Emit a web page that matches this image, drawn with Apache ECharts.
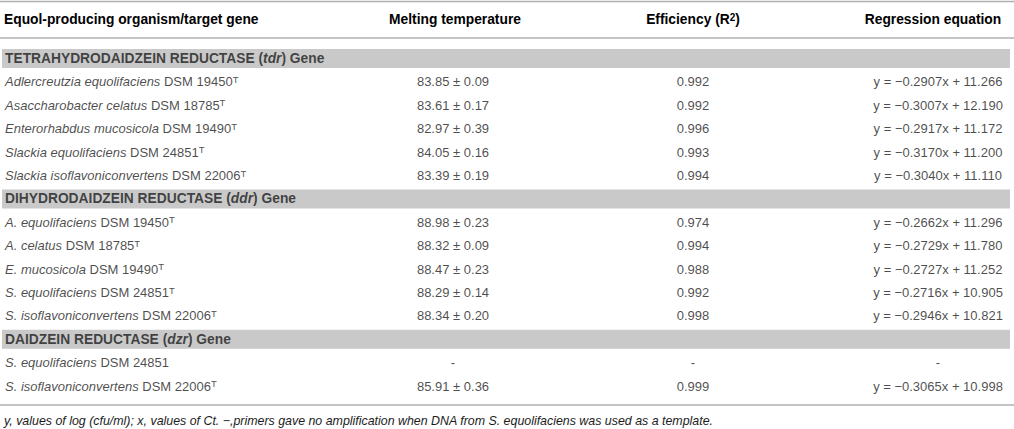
<html>
	<head>
		<meta charset="utf-8">
		<title>Equol qPCR table</title>
		<script src="https://cdn.jsdelivr.net/npm/echarts@6/dist/echarts.min.js"></script>
		<style>
			html, body { margin: 0px; background: #fff; }
			#main { width: 1014px; height: 429px; }
		</style>
	</head>
	<body>
		<div id="main"></div>
		<script type="text/javascript">
			var headers = ['Equol-producing organism/target gene', 'Melting temperature', 'Efficiency (R', 'Regression equation'];
			var sectionNames = ['TETRAHYDRODAIDZEIN REDUCTASE', 'DIHYDRODAIDZEIN REDUCTASE', 'DAIDZEIN REDUCTASE'];
			var sectionGenes = ['tdr', 'ddr', 'dzr'];
			var species = ['Adlercreutzia equolifaciens', 'Asaccharobacter celatus', 'Enterorhabdus mucosicola', 'Slackia equolifaciens', 'Slackia isoflavoniconvertens',
				'A. equolifaciens', 'A. celatus', 'E. mucosicola', 'S. equolifaciens', 'S. isoflavoniconvertens',
				'S. equolifaciens', 'S. isoflavoniconvertens'];
			var strains = ['DSM 19450', 'DSM 18785', 'DSM 19490', 'DSM 24851', 'DSM 22006',
				'DSM 19450', 'DSM 18785', 'DSM 19490', 'DSM 24851', 'DSM 22006',
				'DSM 24851', 'DSM 22006'];
			var typeStrain = [true, true, true, true, true, true, true, true, true, true, false, true];
			var sectionOf = [0, 0, 0, 0, 0, 1, 1, 1, 1, 1, 2, 2];
			var meltMean = [83.85, 83.61, 82.97, 84.05, 83.39, 88.98, 88.32, 88.47, 88.29, 88.34, null, 85.91];
			var meltSd = [0.09, 0.17, 0.39, 0.16, 0.19, 0.23, 0.09, 0.23, 0.14, 0.20, null, 0.36];
			var efficiency = [0.992, 0.992, 0.996, 0.993, 0.994, 0.974, 0.994, 0.988, 0.992, 0.998, null, 0.999];
			var slope = [-0.2907, -0.3007, -0.2917, -0.3170, -0.3040, -0.2662, -0.2729, -0.2727, -0.2716, -0.2946, null, -0.3065];
			var intercept = [11.266, 12.190, 11.172, 11.200, 11.110, 11.296, 11.780, 11.252, 10.905, 10.821, null, 10.998];
			var footnote = 'y, values of log (cfu/ml); x, values of Ct. \u2212,primers gave no amplification when DNA from S. equolifaciens was used as a template.';

			var font = '"Liberation Sans", Arial, Helvetica, sans-serif';
			var ink = '#1c1c1c';
			var rich = {
				i: { fontStyle: 'italic', fontFamily: font, fontSize: 13, color: ink },
				sup: { fontSize: 9.5, lineHeight: 9, verticalAlign: 'top', fontFamily: font, color: ink },
				hs: { fontSize: 10, lineHeight: 9, verticalAlign: 'top', fontWeight: 'bold', fontFamily: font, color: ink },
				b: { fontWeight: 'bold', fontFamily: font, fontSize: 13.8, color: ink },
				bi: { fontWeight: 'bold', fontStyle: 'italic', fontFamily: font, fontSize: 13.8, color: ink }
			};

			// build table rows: a grey band per gene, then its organisms
			var rowKeys = [], bandData = [], nameData = [], meltData = [], effData = [], regData = [];
			for (var s = 0; s < sectionNames.length; s++) {
				var r = rowKeys.length;
				rowKeys.push('band' + s);
				bandData.push(1008);
				nameData.push({ value: [3, r], text: '{b|' + sectionNames[s] + ' (}{bi|' + sectionGenes[s] + '}{b|) Gene}' });
				for (var k = 0; k < species.length; k++) {
					if (sectionOf[k] != s) continue;
					r = rowKeys.length;
					rowKeys.push('row' + k);
					bandData.push('-');
					nameData.push({ value: [3, r], text: '{i|' + species[k] + '} ' + strains[k] + (typeStrain[k] ? '{sup|T}' : '') });
					var has = meltMean[k] != null;
					meltData.push({ value: [451, r], text: has ? meltMean[k].toFixed(2) + ' \u00b1 ' + meltSd[k].toFixed(2) : '-' });
					effData.push({ value: [691, r], text: efficiency[k] != null ? efficiency[k].toFixed(3) : '-' });
					regData.push({ value: [936, r], text: slope[k] != null ? 'y = \u2212' + Math.abs(slope[k]).toFixed(4) + 'x + ' + intercept[k].toFixed(3) : '-' });
				}
			}

			function textCol(data, align) {
				return {
					type: 'scatter',
					symbolSize: 1,
					itemStyle: { color: 'rgba(0,0,0,0)' },
					silent: true,
					data: data,
					label: {
						show: true,
						position: 'inside',
						align: align,
						verticalAlign: 'middle',
						fontFamily: font,
						fontSize: 13,
						lineHeight: 15,
						color: ink,
						rich: rich,
						formatter: function(p) { return p.data.text; }
					}
				};
			}

			var lineColor = '#b0b0b0';
			var chart = echarts.init(document.getElementById('main'), null, { renderer: 'svg' });
			chart.setOption({
				backgroundColor: '#fff',
				animation: false,
				grid: { left: 2, width: 1008, top: 46.8, height: 351 },
				xAxis: { type: 'value', min: 0, max: 1008, show: false },
				yAxis: { type: 'category', data: rowKeys, inverse: true, show: false },
				graphic: [
					{ type: 'line', shape: { x1: 0, y1: 1.5, x2: 1014, y2: 1.5 }, style: { stroke: lineColor, lineWidth: 1.5 } },
					{ type: 'line', shape: { x1: 0, y1: 38, x2: 1014, y2: 38 }, style: { stroke: lineColor, lineWidth: 1.5 } },
					{ type: 'line', shape: { x1: 0, y1: 405, x2: 1014, y2: 405 }, style: { stroke: lineColor, lineWidth: 1.5 } },
					{ type: 'text', x: 4, y: 19, style: { text: '{b|' + headers[0] + '}', rich: rich, align: 'left', verticalAlign: 'middle' } },
					{ type: 'text', x: 455, y: 19, style: { text: '{b|' + headers[1] + '}', rich: rich, align: 'center', verticalAlign: 'middle' } },
					{ type: 'text', x: 693, y: 19, style: { text: '{b|' + headers[2] + '}{hs|2}{b|)}', rich: rich, align: 'center', verticalAlign: 'middle' } },
					{ type: 'text', x: 933, y: 19, style: { text: '{b|' + headers[3] + '}', rich: rich, align: 'center', verticalAlign: 'middle' } },
					{ type: 'text', x: 4, y: 421, style: { text: footnote, fontStyle: 'italic', fontSize: 12.4, fontFamily: font, fill: ink, align: 'left', verticalAlign: 'middle' } }
				],
				series: [
					{
						type: 'bar',
						data: bandData,
						barWidth: 19,
						silent: true,
						itemStyle: { color: '#c9c9c9' }
					},
					textCol(nameData, 'left'),
					textCol(meltData, 'center'),
					textCol(effData, 'center'),
					textCol(regData, 'center')
				]
			});
		</script>
	</body>
</html>
